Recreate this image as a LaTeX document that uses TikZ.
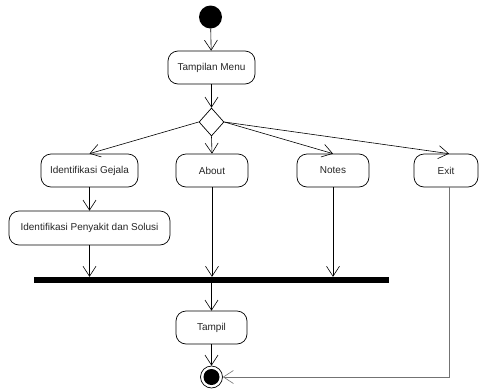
\documentclass[tikz,border=0pt]{standalone}
\usepackage{fontspec}
\setmainfont{Liberation Sans}
\usetikzlibrary{arrows.meta,shapes.geometric,calc}
\begin{document}
\begin{tikzpicture}[x=1pt,y=-1pt,
  act/.style={draw,line width=0.7pt,rounded corners=10pt,minimum height=33pt,inner sep=0pt,font=\fontsize{10}{12}\selectfont,text=black!85},
  flow/.style={line width=0.6pt,-{Straight Barb[length=10pt,width=13pt,line width=0.6pt]}},
  ]
\useasboundingbox (0,0) rectangle (480,389);
\node[circle,fill=black,minimum size=23pt,inner sep=0pt] (start) at (210.5,17) {};
\node[act,minimum width=87pt] (menu) at (211.5,67.5) {Tampilan Menu};
\node[draw,diamond,line width=0.7pt,minimum width=25pt,minimum height=28pt,inner sep=0pt] (dec) at (211.5,122) {};
\node[act,minimum width=97pt] (gej) at (89.5,170.5) {Identifikasi Gejala};
\node[act,minimum width=72pt] (about) at (212,170.5) {About};
\node[act,minimum width=72pt] (notes) at (333,170.5) {Notes};
\node[act,minimum width=64pt] (exit) at (446,170.5) {Exit};
\node[act,minimum width=161pt,minimum height=34pt] (peny) at (89.5,228) {Identifikasi Penyakit dan Solusi};
\node[fill=black,minimum width=355pt,minimum height=6pt,inner sep=0pt] (bar) at (211.5,280) {};
\node[act,minimum width=71pt] (tampil) at (211.5,327.5) {Tampil};
\node[circle,draw,line width=0.7pt,minimum size=22pt,inner sep=0pt] (end) at (211.5,377) {};
\node[circle,fill=black,minimum size=16pt,inner sep=0pt] (endin) at (211.5,377) {};
\coordinate (exitb) at ($(exit.south)+(3,0)$);
\coordinate (exitt) at ($(exit.north)+(3,0)$);
\coordinate (corner) at (exitb |- end);
\draw[flow] (start) -- (menu);
\draw[flow] (menu) -- (dec.north);
\draw[flow] (dec.west) -- (gej.north);
\draw[flow] (dec.south) -- (about.north);
\draw[flow] (dec.east) -- (notes.north);
\draw[flow] (dec.east) -- (exitt);
\draw[flow] (gej) -- (peny);
\draw[flow] (peny) -- (peny |- bar.north);
\draw[flow] (about) -- (about |- bar.north);
\draw[flow] (notes) -- (notes |- bar.north);
\draw[flow] (bar.south -| tampil) -- (tampil);
\draw[flow] (tampil) -- (end);
\draw[flow,draw=black!55] (exitb) -- (corner) -- (end.east);
\end{tikzpicture}
\end{document}
